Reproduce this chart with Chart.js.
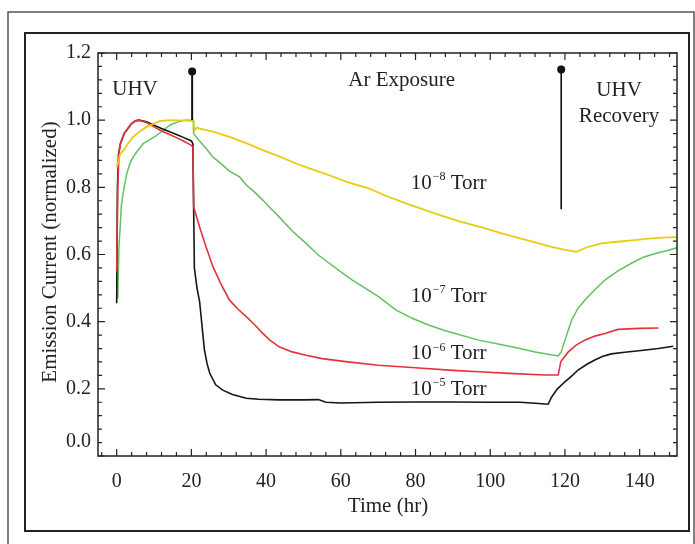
<!DOCTYPE html>
<html>
<head>
<meta charset="utf-8">
<script src="https://cdn.jsdelivr.net/npm/chart.js@4.4.1/dist/chart.umd.min.js"></script>
<style>
  html, body { margin: 0; padding: 0; background: #fff; overflow: hidden; }
  canvas { display: block; }
</style>
</head>
<body>
<canvas id="c" width="695" height="544"></canvas>
<script>
// axes
var xTicks = [0, 20, 40, 60, 80, 100, 120, 140];
var yTicks = [0, 0.2, 0.4, 0.6, 0.8, 1.0, 1.2];
var yTickLabels = ["0.0", "0.2", "0.4", "0.6", "0.8", "1.0", "1.2"];

// 10^-5 Torr (black)
var t5 = [0, 0.2, 0.5, 1, 2, 3, 4, 5, 6, 8, 10, 12, 14, 16, 18, 20, 20.4, 20.8, 21.5, 22.2, 23, 23.5, 24.2, 24.9, 26.5, 28.4, 31, 34.7, 38, 43.5, 50, 54, 56, 60, 70, 80, 90, 100, 108, 112, 115.5, 116.4, 118, 120, 122, 123.5, 126, 128, 130, 132.4, 136, 141, 145, 149];
var v5 = [0.455, 0.8, 0.9, 0.93, 0.96, 0.975, 0.99, 0.998, 1.0, 0.995, 0.985, 0.975, 0.966, 0.957, 0.948, 0.938, 0.93, 0.56, 0.5, 0.46, 0.37, 0.315, 0.275, 0.247, 0.212, 0.196, 0.183, 0.172, 0.169, 0.167, 0.167, 0.168, 0.16, 0.158, 0.16, 0.161, 0.161, 0.16, 0.16, 0.157, 0.154, 0.175, 0.2, 0.221, 0.24, 0.256, 0.274, 0.286, 0.296, 0.304, 0.309, 0.315, 0.32, 0.327];

// 10^-6 Torr (red)
var t6 = [0, 0.3, 0.6, 1, 2, 3, 4, 5, 6, 8, 10, 12, 14, 16, 18, 20, 20.4, 20.6, 22.2, 24, 25.8, 28, 30.2, 32.5, 34.7, 37, 39.1, 41, 43.5, 47, 50.7, 55, 61.3, 70, 80, 90, 97, 105, 114.7, 118.2, 118.9, 120.9, 123, 125.3, 128, 130.7, 134.2, 140, 145];
var v6 = [0.55, 0.8, 0.9, 0.93, 0.96, 0.975, 0.99, 0.998, 1.0, 0.993, 0.98, 0.968, 0.958, 0.948, 0.937, 0.925, 0.92, 0.742, 0.682, 0.62, 0.563, 0.51, 0.464, 0.437, 0.415, 0.39, 0.365, 0.345, 0.325, 0.31, 0.3, 0.29, 0.281, 0.27, 0.263, 0.255, 0.251, 0.246, 0.241, 0.241, 0.281, 0.31, 0.33, 0.345, 0.357, 0.365, 0.377, 0.38, 0.381];

// 10^-7 Torr (green)
var t7 = [0.3, 0.6, 1.3, 2, 2.7, 3.5, 4.4, 5.8, 7.1, 9, 10.7, 12.5, 14.2, 16.9, 18, 20.5, 20.6, 22, 24, 25.8, 28, 30, 32.9, 34.7, 37, 39.1, 41, 43.5, 47, 50.7, 53.8, 56.9, 60, 63.1, 66.5, 70.2, 74.7, 79.1, 83.5, 88, 96.9, 105.8, 112, 118.2, 119, 120, 121.8, 123.5, 125.3, 128, 130.7, 134, 137.8, 141, 144, 148.4, 150];
var v7 = [0.47, 0.62, 0.75, 0.8, 0.84, 0.87, 0.89, 0.912, 0.93, 0.943, 0.955, 0.97, 0.985, 0.997, 1.0, 1.0, 0.96, 0.94, 0.915, 0.89, 0.87, 0.85, 0.831, 0.807, 0.785, 0.762, 0.74, 0.712, 0.67, 0.633, 0.6, 0.574, 0.548, 0.524, 0.5, 0.474, 0.435, 0.41, 0.39, 0.373, 0.345, 0.325, 0.31, 0.298, 0.31, 0.345, 0.405, 0.44, 0.464, 0.495, 0.524, 0.55, 0.574, 0.592, 0.602, 0.615, 0.62];

// 10^-8 Torr (yellow)
var t8 = [0, 0.5, 1, 1.8, 3, 4.4, 6, 8, 10, 11.5, 14, 20.5, 20.9, 21.5, 22.2, 26, 30.2, 35, 39.1, 44, 48, 52, 56.9, 62, 67.5, 72, 78, 85.3, 92, 98, 103.1, 108, 112, 116.4, 120, 123.1, 124.5, 126.2, 129.8, 134, 138.7, 143, 147.5, 150];
var v8 = [0.86, 0.88, 0.9, 0.91, 0.93, 0.95, 0.965, 0.98, 0.99, 0.997, 1.0, 0.998, 0.97, 0.978, 0.975, 0.965, 0.95, 0.93, 0.911, 0.89, 0.871, 0.855, 0.836, 0.815, 0.797, 0.775, 0.75, 0.722, 0.698, 0.68, 0.663, 0.648, 0.636, 0.623, 0.614, 0.608, 0.615, 0.623, 0.633, 0.638, 0.643, 0.648, 0.651, 0.652];

// event markers (time, bottom of line, dot)
var markT = [20.2, 119.0];
var markLow = [1.0, 0.735];
var markHigh = [1.145, 1.151];

function pts(t, v) {
    return t.map(function (x, i) { return { x: x, y: v[i] }; });
}

var serif = "'Liberation Serif', 'Times New Roman', serif";

var decor = {
    id: 'decor',
    beforeDraw: function (chart) {
        var ctx = chart.ctx;
        ctx.save();
        ctx.fillStyle = '#fff';
        ctx.fillRect(0, 0, chart.width, chart.height);
        ctx.restore();
    },
    afterDraw: function (chart) {
        var ctx = chart.ctx;
        var a = chart.chartArea;
        var x = chart.scales.x, y = chart.scales.y;
        ctx.save();

        // page frames
        ctx.strokeStyle = '#555';
        ctx.lineWidth = 1.5;
        ctx.strokeRect(8, 12, 686, 560);
        ctx.strokeStyle = '#222';
        ctx.lineWidth = 2;
        ctx.strokeRect(25, 33, 664, 498);

        // plot box
        ctx.lineWidth = 1.5;
        ctx.strokeStyle = '#222';
        ctx.strokeRect(a.left, a.top, a.right - a.left, a.bottom - a.top);

        // inward ticks, 5 steps per label
        ctx.lineWidth = 1.2;
        ctx.beginPath();
        for (var i = -1; i <= 37; i++) {
            var px = x.getPixelForValue(i * 4);
            if (px < a.left || px > a.right) continue;
            var len = (i % 5 === 0) ? 7 : 4;
            ctx.moveTo(px, a.bottom); ctx.lineTo(px, a.bottom - len);
            ctx.moveTo(px, a.top); ctx.lineTo(px, a.top + len);
        }
        for (var j = 0; j <= 30; j++) {
            var py = y.getPixelForValue(j * 0.04);
            var l2 = (j % 5 === 0) ? 7 : 4;
            ctx.moveTo(a.left, py); ctx.lineTo(a.left + l2, py);
            ctx.moveTo(a.right, py); ctx.lineTo(a.right - l2, py);
        }
        ctx.stroke();

        // y tick labels
        ctx.fillStyle = '#222';
        ctx.font = '20px ' + serif;
        ctx.textAlign = 'right';
        ctx.textBaseline = 'middle';
        yTicks.forEach(function (v, k) {
            var py = y.getPixelForValue(v);
            if (v === 0) py -= 14;
            ctx.fillText(yTickLabels[k], a.left - 7, py);
        });

        // axis titles
        ctx.font = '21px ' + serif;
        ctx.textAlign = 'center';
        ctx.fillText('Time (hr)', 388, 506);
        ctx.save();
        ctx.translate(50, 252);
        ctx.rotate(-Math.PI / 2);
        ctx.fillText('Emission Current (normalized)', 0, 0);
        ctx.restore();

        // annotations
        ctx.fillText('UHV', x.getPixelForValue(4.9), y.getPixelForValue(1.092));
        ctx.fillText('Ar Exposure', x.getPixelForValue(76.3), y.getPixelForValue(1.119));
        ctx.fillText('UHV', x.getPixelForValue(134.5), y.getPixelForValue(1.089));
        ctx.fillText('Recovery', x.getPixelForValue(134.5), y.getPixelForValue(1.012));

        var torr = [["8", 0.8125], ["7", 0.476], ["6", 0.304], ["5", 0.199]];
        ctx.textAlign = 'left';
        torr.forEach(function (t) {
            var tx = x.getPixelForValue(78.7);
            var ty = y.getPixelForValue(t[1]);
            ctx.font = '21px ' + serif;
            ctx.fillText('10', tx, ty);
            var w = ctx.measureText('10').width;
            ctx.font = '12px ' + serif;
            ctx.fillText('\u2212' + t[0], tx + w + 1, ty - 6);
            var w2 = ctx.measureText('\u2212' + t[0]).width;
            ctx.font = '21px ' + serif;
            ctx.fillText(' Torr', tx + w + w2 + 1, ty);
        });

        ctx.restore();
    }
};

function marker(k, width) {
    return {
        data: [{ x: markT[k], y: markLow[k] }, { x: markT[k], y: markHigh[k] }],
        borderColor: '#111',
        borderWidth: width,
        pointRadius: [0, 4],
        pointBackgroundColor: '#111',
        pointBorderWidth: 0
    };
}

new Chart(document.getElementById('c'), {
    type: 'line',
    data: {
        datasets: [
            marker(0, 2),
            marker(1, 1.6),
            { label: '1e-8', data: pts(t8, v8), borderColor: '#e8cc10', borderWidth: 1.8, pointRadius: 0 },
            { label: '1e-6', data: pts(t6, v6), borderColor: '#e8303a', borderWidth: 1.6, pointRadius: 0 },
            { label: '1e-5', data: pts(t5, v5), borderColor: '#151515', borderWidth: 1.6, pointRadius: 0 },
            { label: '1e-7', data: pts(t7, v7), borderColor: '#62c060', borderWidth: 1.5, pointRadius: 0 }
        ]
    },
    options: {
        responsive: false,
        animation: false,
        layout: { padding: { top: 53, right: 18, left: 0, bottom: 0 } },
        plugins: { legend: { display: false }, tooltip: { enabled: false } },
        elements: { line: { tension: 0 } },
        scales: {
            x: {
                type: 'linear',
                min: -5,
                max: 150,
                afterBuildTicks: function (s) { s.ticks = xTicks.map(function (v) { return { value: v }; }); },
                afterFit: function (s) { s.height = 88; },
                grid: { display: false, drawTicks: false },
                border: { display: false },
                ticks: { font: { family: serif, size: 20 }, color: '#222', padding: 14, maxRotation: 0 }
            },
            y: {
                type: 'linear',
                min: 0,
                max: 1.2,
                afterBuildTicks: function (s) { s.ticks = yTicks.map(function (v) { return { value: v }; }); },
                afterFit: function (s) { s.width = 98; },
                grid: { display: false, drawTicks: false },
                border: { display: false },
                ticks: { display: false }
            }
        }
    },
    plugins: [decor]
});
</script>
</body>
</html>
